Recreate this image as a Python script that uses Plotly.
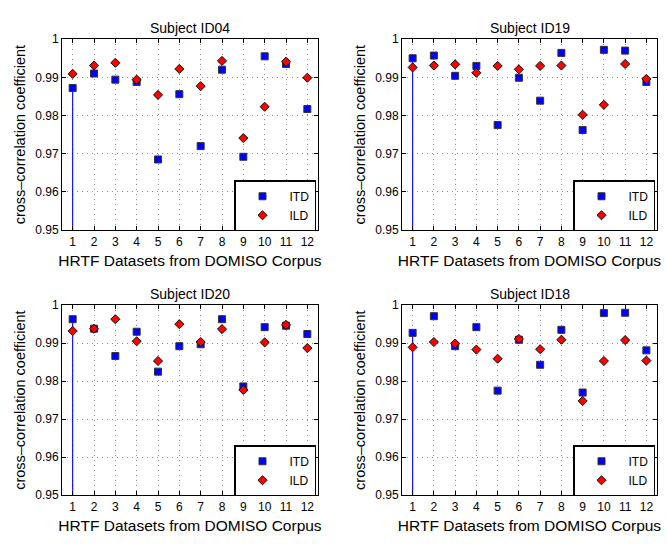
import plotly.graph_objects as go

datasets = list(range(1, 13))
subjects = ["Subject ID04", "Subject ID19", "Subject ID20", "Subject ID18"]

itd_id04 = [0.9872, 0.9910, 0.9894, 0.9888, 0.9685, 0.9856, 0.9720, 0.9920, 0.9692, 0.9955, 0.9935, 0.9817]
ild_id04 = [0.9909, 0.9931, 0.9938, 0.9894, 0.9854, 0.9922, 0.9877, 0.9943, 0.9741, 0.9823, 0.9941, 0.9899]
itd_id19 = [0.9950, 0.9957, 0.9904, 0.9930, 0.9775, 0.9899, 0.9839, 0.9964, 0.9762, 0.9972, 0.9970, 0.9888]
ild_id19 = [0.9926, 0.9931, 0.9934, 0.9912, 0.9930, 0.9921, 0.9930, 0.9931, 0.9802, 0.9828, 0.9935, 0.9896]
itd_id20 = [0.9963, 0.9938, 0.9866, 0.9930, 0.9825, 0.9892, 0.9897, 0.9963, 0.9786, 0.9942, 0.9946, 0.9924]
ild_id20 = [0.9932, 0.9938, 0.9963, 0.9905, 0.9853, 0.9950, 0.9903, 0.9937, 0.9777, 0.9902, 0.9948, 0.9887]
itd_id18 = [0.9927, 0.9971, 0.9892, 0.9942, 0.9775, 0.9909, 0.9843, 0.9935, 0.9770, 0.9979, 0.9980, 0.9881]
ild_id18 = [0.9889, 0.9903, 0.9899, 0.9883, 0.9859, 0.9911, 0.9884, 0.9909, 0.9748, 0.9853, 0.9908, 0.9854]

itd_all = [itd_id04, itd_id19, itd_id20, itd_id18]
ild_all = [ild_id04, ild_id19, ild_id20, ild_id18]

y_ticks = [0.95, 0.96, 0.97, 0.98, 0.99, 1.0]
y_ticklabels = ["0.95", "0.96", "0.97", "0.98", "0.99", "1"]
y_min = 0.95

W, H = 667, 545
# plot boxes in pixels: (left, right, top, bottom)
boxes = [(62, 318, 33, 229), (402, 657, 33, 229), (62, 318, 306, 501), (402, 657, 306, 501)]

FONT = "Liberation Sans, Arial, Helvetica, sans-serif"
fig = go.Figure()
layout = dict(
    width=W, height=H, margin=dict(l=0, r=0, t=0, b=0),
    paper_bgcolor="white", plot_bgcolor="white",
    font=dict(family=FONT, size=12, color="black"),
    annotations=[],
)

for i in range(4):
    n = "" if i == 0 else str(i + 1)
    xa, ya = "x" + n, "y" + n
    lg = "legend" if i == 0 else "legend" + str(i + 1)
    l, r, t, b = boxes[i]
    # stem at first dataset
    fig.add_trace(go.Scatter(x=[datasets[0], datasets[0]], y=[y_min, itd_all[i][0]], mode="lines",
                             line=dict(color="#0000FF", width=1.1), showlegend=False,
                             xaxis=xa, yaxis=ya, hoverinfo="skip"))
    fig.add_trace(go.Scatter(x=datasets, y=itd_all[i], mode="markers", name="ITD",
                             marker=dict(symbol="square", size=7, color="#0000FF",
                                         line=dict(color="#333333", width=1)),
                             xaxis=xa, yaxis=ya, legend=lg))
    fig.add_trace(go.Scatter(x=datasets, y=ild_all[i], mode="markers", name="ILD",
                             marker=dict(symbol="diamond", size=7, color="#FF0000",
                                         line=dict(color="#111111", width=1)),
                             xaxis=xa, yaxis=ya, legend=lg))
    axcommon = dict(showline=True, linecolor="black", linewidth=1, mirror="ticks",
                    ticks="inside", ticklen=4, tickcolor="black",
                    showgrid=True, gridcolor="#8c8c8c", griddash="1px,4px", gridwidth=1,
                    zeroline=False, tickfont=dict(size=12, family=FONT, color="black"))
    layout["xaxis" + n] = dict(axcommon, domain=[l / W, r / W], range=[0.5, 12.5],
                               tickvals=datasets, anchor=ya,
                               title=dict(text="HRTF Datasets from DOMISO Corpus",
                                          font=dict(size=15.5, family=FONT), standoff=7))
    layout["yaxis" + n] = dict(axcommon, domain=[1 - b / H, 1 - t / H], range=[0.95, 1.0],
                               tickvals=y_ticks, ticktext=y_ticklabels, anchor=xa,
                               title=dict(text="cross\u2013correlation coefficient",
                                          font=dict(size=14.5, family=FONT), standoff=6))
    layout[lg] = dict(x=(r - 2) / W, y=1 - (b - 25) / H, xanchor="right", yanchor="middle",
                      bgcolor="white", bordercolor="black", borderwidth=1.5,
                      font=dict(size=12, family=FONT), tracegroupgap=0, itemwidth=44)
    layout["annotations"].append(dict(text=subjects[i], x=(l + r) / 2 / W, y=1 - (t - 11) / H,
                                      xref="paper", yref="paper", showarrow=False,
                                      font=dict(size=14, family=FONT), xanchor="center",
                                      yanchor="middle"))

fig.update_layout(**layout)
fig.write_html("out.html")
